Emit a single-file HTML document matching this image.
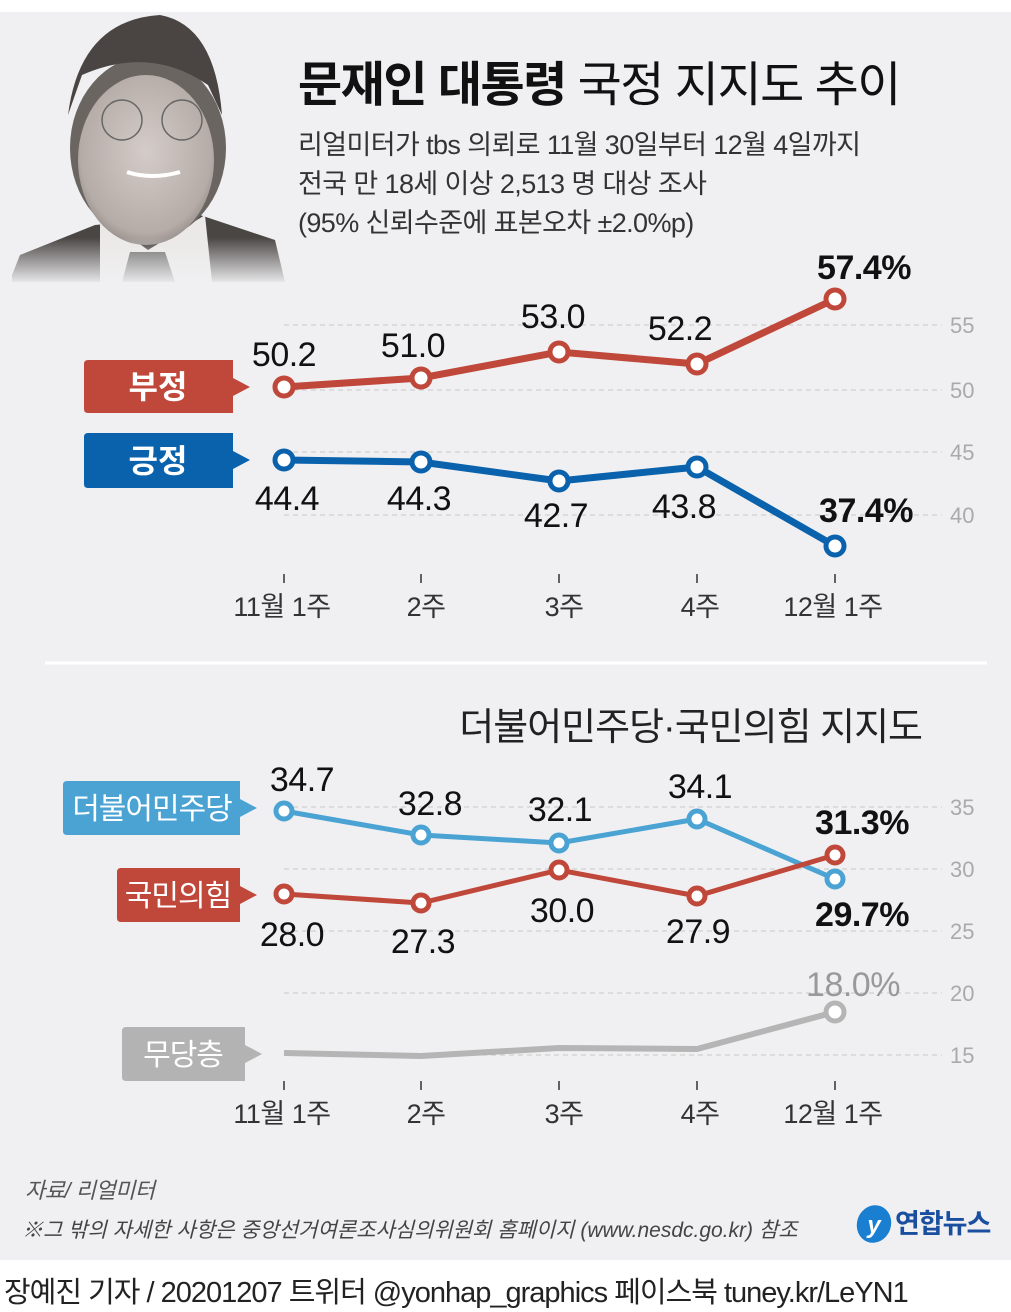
<!DOCTYPE html>
<html><head><meta charset="utf-8"><style>
body{margin:0;width:1011px;height:1312px;background:#fff;overflow:hidden}
svg{display:block}
text{font-family:"Liberation Sans","Noto Sans CJK KR",sans-serif}
</style></head><body>
<svg width="1011" height="1312" viewBox="0 0 1011 1312">
<defs>
<linearGradient id="fade" x1="0" y1="0" x2="0" y2="1"><stop offset="0.5" stop-color="#f0f0f2" stop-opacity="0"/><stop offset="1" stop-color="#f0f0f2" stop-opacity="1"/></linearGradient>
<radialGradient id="face" cx="0.5" cy="0.45" r="0.6"><stop offset="0" stop-color="#d4ccc8"/><stop offset="0.8" stop-color="#b5aca8"/><stop offset="1" stop-color="#8a827e"/></radialGradient>
</defs>
<rect x="0" y="12" width="1011" height="1248" fill="#f0f0f2"/>
<!-- portrait -->
<g>
<path d="M12 275 L20 255 L95 225 L200 215 L275 240 L285 282 L12 282Z" fill="#4a4644"/>
<path d="M100 215 L148 250 L205 215 L212 282 L100 282Z" fill="#ebe9e7"/>
<path d="M130 252 L165 252 L175 282 L122 282Z" fill="#666"/>
<ellipse cx="148" cy="148" rx="78" ry="92" fill="#6b6562"/>
<ellipse cx="146" cy="160" rx="68" ry="85" fill="url(#face)"/>
<path d="M68 115 Q80 20 160 15 Q215 25 222 115 L208 85 Q150 45 82 75Z" fill="#4a4542"/>
<circle cx="122" cy="120" r="20" fill="none" stroke="#666" stroke-width="1.5"/>
<circle cx="182" cy="120" r="20" fill="none" stroke="#666" stroke-width="1.5"/>
<path d="M127 172 Q152 180 180 172" stroke="#fff" stroke-width="4" fill="none"/>
<rect x="12" y="190" width="275" height="95" fill="url(#fade)"/>
</g>
<!-- title -->
<text x="298" y="101" font-size="48" fill="#111" font-weight="bold" letter-spacing="-1.5">문재인 대통령 <tspan font-weight="normal">국정 지지도 추이</tspan></text>
<text x="298" y="154" font-size="27" fill="#333" letter-spacing="-0.6">리얼미터가 tbs 의뢰로 11월 30일부터 12월 4일까지</text>
<text x="298" y="193" font-size="27" fill="#333" letter-spacing="-0.6">전국 만 18세 이상 2,513 명 대상 조사</text>
<text x="298" y="232" font-size="27" fill="#333" letter-spacing="-0.6">(95% 신뢰수준에 표본오차 ±2.0%p)</text>
<!-- top grid -->
<g stroke="#c8c8c8" stroke-dasharray="5,4" stroke-width="1">
<line x1="284" y1="325" x2="942" y2="325"/><line x1="284" y1="390" x2="942" y2="390"/>
<line x1="284" y1="452" x2="942" y2="452"/><line x1="284" y1="515" x2="942" y2="515"/>
</g>
<g font-size="22" fill="#aaa"><text x="950" y="333">55</text><text x="950" y="398">50</text><text x="950" y="460">45</text><text x="950" y="523">40</text></g>
<g stroke="#333" stroke-width="1.5"><line x1="284" y1="574" x2="284" y2="583"/><line x1="421" y1="574" x2="421" y2="583"/><line x1="559" y1="574" x2="559" y2="583"/><line x1="697" y1="574" x2="697" y2="583"/><line x1="835" y1="574" x2="835" y2="583"/></g>
<g font-size="27" fill="#333" text-anchor="middle" letter-spacing="-0.5"><text x="282" y="616">11월 1주</text><text x="426" y="616">2주</text><text x="564" y="616">3주</text><text x="700" y="616">4주</text><text x="833" y="616">12월 1주</text></g>
<polyline points="284,387 421,378 559,352 697,364 835,299" fill="none" stroke="#c0483a" stroke-width="7"/>
<polyline points="284,460 421,462 559,481 697,467 835,546" fill="none" stroke="#0a62ad" stroke-width="7"/>
<g fill="#fff" stroke="#c0483a" stroke-width="5"><circle cx="284" cy="387" r="9"/><circle cx="421" cy="378" r="9"/><circle cx="559" cy="352" r="9"/><circle cx="697" cy="364" r="9"/><circle cx="835" cy="299" r="9"/></g>
<g fill="#fff" stroke="#0a62ad" stroke-width="5"><circle cx="284" cy="460" r="9"/><circle cx="421" cy="462" r="9"/><circle cx="559" cy="481" r="9"/><circle cx="697" cy="467" r="9"/><circle cx="835" cy="546" r="9"/></g>
<g font-size="34" fill="#111" text-anchor="middle" letter-spacing="-0.5">
<text x="284" y="366">50.2</text><text x="413" y="357">51.0</text><text x="553" y="328">53.0</text><text x="680" y="340">52.2</text>
<text x="864" y="279" font-weight="bold">57.4%</text>
<text x="287" y="510">44.4</text><text x="419" y="510">44.3</text><text x="556" y="527">42.7</text><text x="684" y="518">43.8</text>
<text x="866" y="522" font-weight="bold">37.4%</text></g>
<path d="M84 364 Q84 360 88 360 L233 360 L233 378 L250 387 L233 396 L233 413 L88 413 Q84 413 84 409Z" fill="#c0483a"/>
<text x="158" y="398" font-size="32" fill="#fff" font-weight="bold" text-anchor="middle">부정</text>
<path d="M84 437 Q84 433 88 433 L233 433 L233 451 L250 460 L233 469 L233 488 L88 488 Q84 488 84 484Z" fill="#0a62ad"/>
<text x="158" y="472" font-size="32" fill="#fff" font-weight="bold" text-anchor="middle">긍정</text>
<line x1="45" y1="663" x2="987" y2="663" stroke="#fff" stroke-width="3"/>
<!-- bottom -->
<text x="922" y="740" font-size="38" fill="#222" text-anchor="end" letter-spacing="-1">더불어민주당·국민의힘 지지도</text>
<g stroke="#c8c8c8" stroke-dasharray="5,4" stroke-width="1">
<line x1="284" y1="807" x2="942" y2="807"/><line x1="284" y1="869" x2="942" y2="869"/><line x1="284" y1="931" x2="942" y2="931"/><line x1="284" y1="993" x2="942" y2="993"/><line x1="284" y1="1055" x2="942" y2="1055"/>
</g>
<g font-size="22" fill="#aaa"><text x="950" y="815">35</text><text x="950" y="877">30</text><text x="950" y="939">25</text><text x="950" y="1001">20</text><text x="950" y="1063">15</text></g>
<g stroke="#333" stroke-width="1.5"><line x1="284" y1="1081" x2="284" y2="1090"/><line x1="421" y1="1081" x2="421" y2="1090"/><line x1="559" y1="1081" x2="559" y2="1090"/><line x1="697" y1="1081" x2="697" y2="1090"/><line x1="835" y1="1081" x2="835" y2="1090"/></g>
<g font-size="27" fill="#333" text-anchor="middle" letter-spacing="-0.5"><text x="282" y="1123">11월 1주</text><text x="426" y="1123">2주</text><text x="564" y="1123">3주</text><text x="700" y="1123">4주</text><text x="833" y="1123">12월 1주</text></g>
<polyline points="284,1053 421,1056 559,1048 697,1049 835,1012" fill="none" stroke="#b5b5b5" stroke-width="6"/>
<circle cx="835" cy="1012" r="9" fill="#fff" stroke="#b5b5b5" stroke-width="5"/>
<polyline points="284,811 421,835 559,843 697,819 835,879" fill="none" stroke="#4aa3d3" stroke-width="5"/>
<polyline points="284,894 421,903 559,870 697,896 835,855" fill="none" stroke="#c0483a" stroke-width="5"/>
<g fill="#fff" stroke="#4aa3d3" stroke-width="5"><circle cx="284" cy="811" r="8"/><circle cx="421" cy="835" r="8"/><circle cx="559" cy="843" r="8"/><circle cx="697" cy="819" r="8"/><circle cx="835" cy="879" r="8"/></g>
<g fill="#fff" stroke="#c0483a" stroke-width="5"><circle cx="284" cy="894" r="8"/><circle cx="421" cy="903" r="8"/><circle cx="559" cy="870" r="8"/><circle cx="697" cy="896" r="8"/><circle cx="835" cy="855" r="8"/></g>
<g font-size="34" fill="#111" text-anchor="middle" letter-spacing="-0.5">
<text x="302" y="791">34.7</text><text x="430" y="815">32.8</text><text x="560" y="821">32.1</text><text x="700" y="798">34.1</text>
<text x="862" y="834" font-weight="bold">31.3%</text>
<text x="292" y="946">28.0</text><text x="423" y="953">27.3</text><text x="562" y="922">30.0</text><text x="698" y="943">27.9</text>
<text x="862" y="926" font-weight="bold">29.7%</text>
<text x="853" y="996" fill="#999">18.0%</text></g>
<path d="M63 785 Q63 781 67 781 L240 781 L240 799 L257 808 L240 817 L240 835 L67 835 Q63 835 63 831Z" fill="#4aa3d3"/>
<text x="152" y="819" font-size="30" fill="#fff" text-anchor="middle" letter-spacing="-1">더불어민주당</text>
<path d="M117 872 Q117 868 121 868 L240 868 L240 886 L257 895 L240 904 L240 922 L121 922 Q117 922 117 918Z" fill="#c0483a"/>
<text x="178" y="906" font-size="30" fill="#fff" text-anchor="middle" letter-spacing="-1">국민의힘</text>
<path d="M122 1031 Q122 1027 126 1027 L245 1027 L245 1045 L262 1054 L245 1063 L245 1081 L126 1081 Q122 1081 122 1077Z" fill="#b3b3b3"/>
<text x="183" y="1065" font-size="30" fill="#fff" text-anchor="middle" letter-spacing="-1">무당층</text>
<!-- footer -->
<text x="25" y="1198" font-size="22" fill="#555" font-style="italic" letter-spacing="-0.5">자료/ 리얼미터</text>
<text x="22" y="1237" font-size="21" fill="#444" font-style="italic" letter-spacing="0">※그 밖의 자세한 사항은 중앙선거여론조사심의위원회 홈페이지 (www.nesdc.go.kr) 참조</text>
<ellipse cx="874" cy="1224" rx="17" ry="19" fill="#1a7fd0" transform="rotate(20 874 1224)"/>
<text x="874" y="1233" font-size="24" fill="#fff" font-style="italic" text-anchor="middle" font-weight="bold">y</text>
<text x="895" y="1233" font-size="27" fill="#1a4fa0" font-weight="bold" letter-spacing="-1">연합뉴스</text>
<text x="4" y="1302" font-size="29" fill="#222" letter-spacing="-1">장예진 기자 / 20201207 트위터 @yonhap_graphics  페이스북 tuney.kr/LeYN1</text>
</svg>
</body></html>
